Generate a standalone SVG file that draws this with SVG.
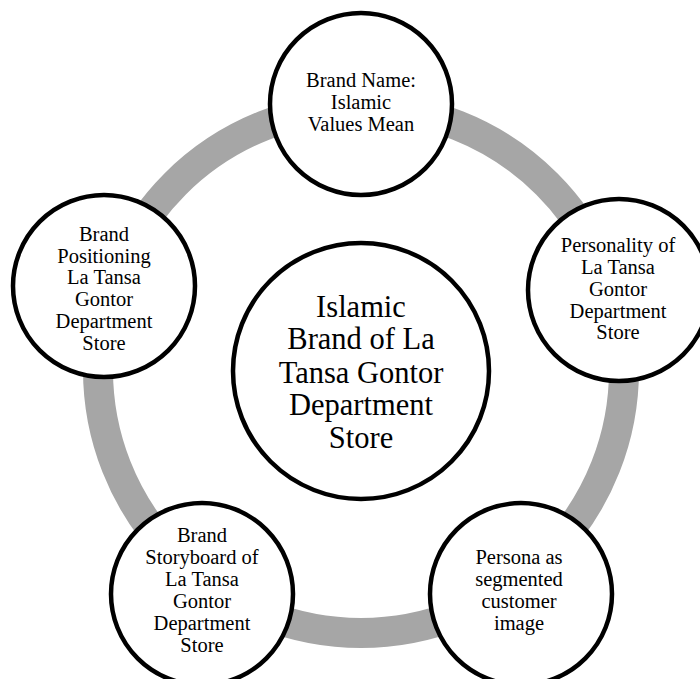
<svg xmlns="http://www.w3.org/2000/svg" width="700" height="679" viewBox="0 0 700 679">
<style>
.ring{fill:none;stroke:#a6a6a6;stroke-width:30}
.node circle{fill:#fff;stroke:#000;stroke-width:4.5}
.node text{font-family:"Liberation Serif","Times New Roman",serif;font-size:20.5px;fill:#000;text-anchor:middle}
#center text{font-size:30.5px}
</style>
<rect width="700" height="679" fill="#fff"/>
<g id="connectors">
<circle class="ring" cx="361" cy="370" r="263"/>
</g>
<g id="center" class="node">
<circle cx="361" cy="371" r="128"/>
<text x="361" y="317">Islamic</text>
<text x="361" y="349">Brand of La</text>
<text x="361" y="383">Tansa Gontor</text>
<text x="361" y="415">Department</text>
<text x="361" y="448">Store</text>
</g>
<g id="top" class="node">
<circle cx="361" cy="104" r="91"/>
<text x="361" y="87">Brand Name:</text>
<text x="361" y="109">Islamic</text>
<text x="361" y="131">Values Mean</text>
</g>
<g id="right" class="node">
<circle cx="619" cy="290" r="91"/>
<text x="618" y="252">Personality of</text>
<text x="618" y="274">La Tansa</text>
<text x="618" y="296">Gontor</text>
<text x="618" y="318">Department</text>
<text x="618" y="339">Store</text>
</g>
<g id="bottom-right" class="node">
<circle cx="521" cy="594" r="91"/>
<text x="519" y="564">Persona as</text>
<text x="519" y="586">segmented</text>
<text x="519" y="608">customer</text>
<text x="519" y="630">image</text>
</g>
<g id="bottom-left" class="node">
<circle cx="202" cy="594" r="91"/>
<text x="202" y="542">Brand</text>
<text x="202" y="564">Storyboard of</text>
<text x="202" y="586">La Tansa</text>
<text x="202" y="608">Gontor</text>
<text x="202" y="630">Department</text>
<text x="202" y="652">Store</text>
</g>
<g id="left" class="node">
<circle cx="104" cy="286" r="91"/>
<text x="104" y="241">Brand</text>
<text x="104" y="263">Positioning</text>
<text x="104" y="284">La Tansa</text>
<text x="104" y="306">Gontor</text>
<text x="104" y="328">Department</text>
<text x="104" y="350">Store</text>
</g>
</svg>
